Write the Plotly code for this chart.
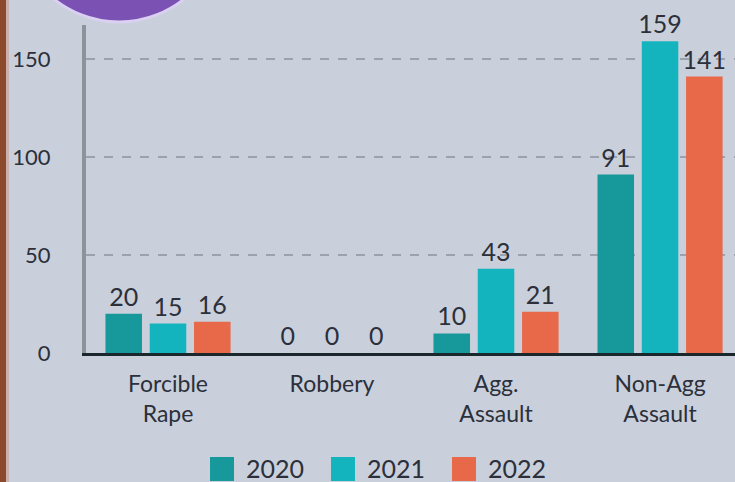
import plotly.graph_objects as go

categories = ["Forcible<br>Rape", "Robbery", "Agg.<br>Assault", "Non-Agg<br>Assault"]
years = ["2020", "2021", "2022"]
values_2020 = [20, 0, 10, 91]
values_2021 = [15, 0, 43, 159]
values_2022 = [16, 0, 21, 141]
colors = ["#17989b", "#14b4bf", "#e8694a"]
ytick_vals = [0, 50, 100, 150]

series = [values_2020, values_2021, values_2022]

W, H = 735, 482
L, R, T, B = 86, 0, 25, 129
pw, ph = W - L - R, H - T - B

def px_x(x):
    return (x - L) / pw

def px_y(y):
    return (H - B - y) / ph

fig = go.Figure()
for name, vals, col in zip(years, series, colors):
    fig.add_trace(go.Bar(
        x=categories, y=vals, name=name,
        marker=dict(color=col, line=dict(width=0)),
        text=[str(v) for v in vals], textposition="outside",
        textfont=dict(family="Lato", size=25, color="#2b303a"),
        constraintext="none",
        cliponaxis=False, showlegend=False,
    ))

shapes = []
annotations = []
# brown strip at left edge
shapes.append(dict(type="rect", xref="paper", yref="paper",
                   x0=px_x(0), x1=px_x(6), y0=px_y(H), y1=px_y(0),
                   fillcolor="#8b4a2c", line=dict(width=0), layer="below"))
shapes.append(dict(type="rect", xref="paper", yref="paper",
                   x0=px_x(6), x1=px_x(9), y0=px_y(H), y1=px_y(0),
                   fillcolor="#cbb0ad", line=dict(width=0), layer="below"))
# purple circle at top-left
shapes.append(dict(type="circle", xref="paper", yref="paper",
                   x0=px_x(15), x1=px_x(223), y0=px_y(-186), y1=px_y(22),
                   fillcolor="#7b52b3", line=dict(color="#d9d0f2", width=3)))

# manual legend
for i, (name, col) in enumerate(zip(years, colors)):
    sx = 210 + i * 121
    shapes.append(dict(type="rect", xref="paper", yref="paper",
                       x0=px_x(sx), x1=px_x(sx + 24), y0=px_y(481), y1=px_y(457),
                       fillcolor=col, line=dict(width=0)))
    annotations.append(dict(xref="paper", yref="paper", x=px_x(sx + 34), y=px_y(468),
                            text=name, showarrow=False, xanchor="left", yanchor="middle",
                            font=dict(family="Lato", size=25, color="#2b303a")))

fig.update_layout(
    width=W, height=H,
    margin=dict(l=L, r=R, t=T, b=B, pad=0),
    paper_bgcolor="#c9cfdb", plot_bgcolor="#c9cfdb",
    barmode="group", bargap=0.19, bargroupgap=0.175,
    font=dict(family="Lato", color="#2b303a"),
    shapes=shapes, annotations=annotations,
    xaxis=dict(
        range=[-0.5, 3.457], showgrid=False, zeroline=False,
        showline=True, linecolor="#1a272c", linewidth=3,
        ticks="", tickfont=dict(family="Lato", size=23, color="#2b303a"),
        ticklabelstandoff=8,
    ),
    yaxis=dict(
        range=[0, 167.3], tickvals=ytick_vals, ticktext=[str(v) for v in ytick_vals],
        showgrid=True, gridcolor="#9aa2ad", gridwidth=1.5, griddash="dash",
        zeroline=False, showline=True, linecolor="#8c939b", linewidth=4,
        ticks="", tickfont=dict(family="Lato", size=22, color="#2b303a"),
        ticklabelstandoff=27,
    ),
)

fig.write_html(
    "out.html",
    config={"displayModeBar": False},
    post_script="document.body.style.margin='0';document.body.style.overflow='hidden';",
)
